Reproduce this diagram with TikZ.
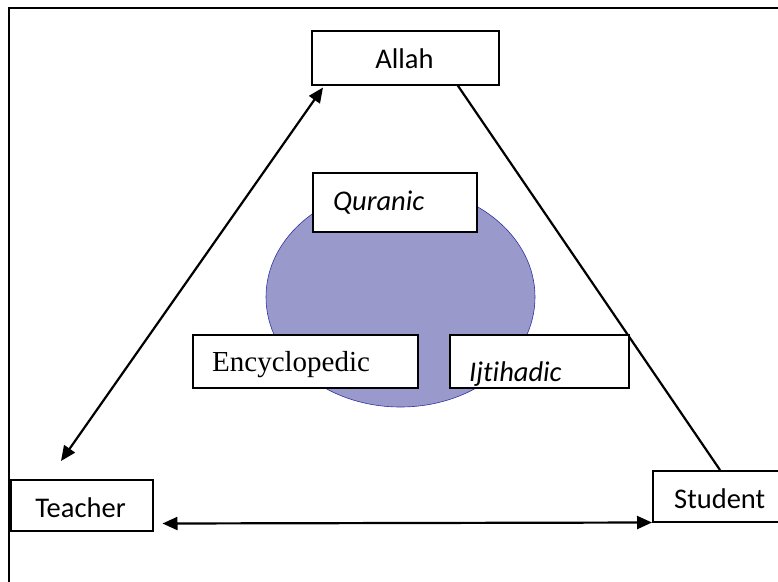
\documentclass[tikz,border=0pt]{standalone}
\usepackage{fontspec}
\setmainfont[Ligatures=NoCommon]{Carlito}
\newfontfamily\timesfont{Liberation Serif}
\usetikzlibrary{arrows.meta,calc,shapes.geometric}
\definecolor{ellfill}{HTML}{9999CC}
\definecolor{elldraw}{HTML}{3333A0}
\tikzset{
  box/.style={draw=black, line width=1.5pt, fill=white, rectangle, inner sep=0pt, anchor=north west},
  lbl/.style={inner sep=0pt, font=\fontsize{28.5}{34}\selectfont},
  conn/.style={line width=2.2pt, draw=black},
  twotip/.style={{Triangle[length=15pt,width=13pt]}-{Triangle[length=15pt,width=13pt]}},
}
\begin{document}
\begin{tikzpicture}[x=1pt,y=-1pt]
\path[use as bounding box] (0,0) rectangle (778,581);
\clip (0,0) rectangle (778,581);
% outer frame (cropped)
\draw[line width=2pt] (9,590) -- (9,7.5) -- (790,7.5);
% ellipse
\node[ellipse, draw=elldraw, line width=0.6pt, fill=ellfill, minimum width=269pt, minimum height=220pt, inner sep=0pt] (ell) at (400.5,297) {};
% boxes
\node[box, minimum width=187pt, minimum height=54pt] (allah) at (311,30) {};
\node[box, minimum width=142pt, minimum height=51pt] (teacher) at (10,479) {};
\node[box, minimum width=140pt, minimum height=51pt] (student) at (652,470) {};
% connectors
\draw[conn] ($(allah.south)+(52.5,0)$) -- ($(student.north west)+(68,0)$);
\draw[conn, twotip] ($(teacher.north west)+(51,-18)$) -- ($(allah.south west)+(12,2)$);
\draw[conn, twotip] ($(teacher.south east)+(9,-8)$) -- (student.south west);
% inner boxes
\node[box, minimum width=164pt, minimum height=59pt] (quranic) at (312,172) {};
\node[box, minimum width=225pt, minimum height=53pt] (ency) at (192,334) {};
\node[box, minimum width=179pt, minimum height=53pt] (ijti) at (449,334) {};
% texts
\node[lbl, anchor=base] (allahT) at (404.5,68) {Allah};
\node[lbl, anchor=base] (teacherT) at (80.5,517) {Teacher};
\node[lbl, anchor=base west] (studentT) at (674,508) {Student};
\node[lbl, anchor=base west, font=\fontsize{28.5}{34}\selectfont\itshape] (quranicT) at (333,210) {Quranic};
\node[lbl, anchor=base west, font=\fontsize{29}{34}\timesfont] (encyT) at (212,371) {Encyclopedic};
\node[lbl, anchor=base west, font=\fontsize{28.5}{34}\selectfont\itshape] (ijtiT) at (469,381.5) {Ijtihadic};
\end{tikzpicture}
\end{document}
